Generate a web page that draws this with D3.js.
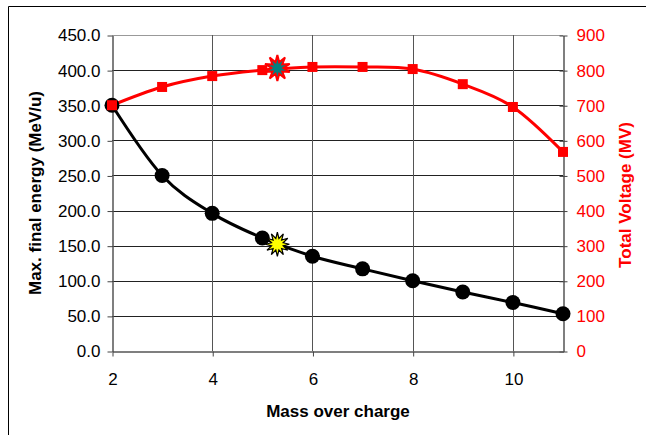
<!DOCTYPE html>
<html>
<head>
<meta charset="utf-8">
<script src="https://cdn.jsdelivr.net/npm/d3@7"></script>
<style>
  body { margin: 0; background: #fff; }
  svg { font-family: Arial, 'Liberation Sans', sans-serif; }
</style>
</head>
<body>
<svg id="chart" width="646" height="435"></svg>
<script>
// mass over charge
var massOverCharge = [2, 3, 4, 5, 6, 7, 8, 9, 10, 11]
// max. final energy (MeV/u), left axis
var finalEnergy = [350, 250, 196, 161, 135, 117, 100, 84, 69, 53]
// total voltage (MV), right axis
var totalVoltage = [700, 752, 783, 800, 809, 809, 803, 760, 695, 567]
// highlighted points
var energyStar = [5.3, 152]
var voltageStar = [5.3, 806]

var leftTicks = [0, 50, 100, 150, 200, 250, 300, 350, 400, 450]
var rightTicks = [0, 100, 200, 300, 400, 500, 600, 700, 800, 900]
var xTicks = [2, 4, 6, 8, 10]

var svg = d3.select('#chart')

var x = d3.scaleLinear().domain([2, 11]).range([112, 563])
var yL = d3.scaleLinear().domain([0, 450]).range([351, 35])
var yR = d3.scaleLinear().domain([0, 900]).range([351, 35])

// outer frame (only top and left edges visible)
svg.append('path')
  .attr('d', 'M8.5,435 L8.5,6.5 L646,6.5')
  .attr('fill', 'none')
  .attr('stroke', '#000')
  .attr('stroke-width', 1)

// grid
svg.append('g').selectAll('line.h')
  .data(leftTicks.slice(1))
  .enter().append('line')
  .attr('x1', x(2)).attr('x2', x(11))
  .attr('y1', function (d) { return Math.round(yL(d)) + 0.5 })
  .attr('y2', function (d) { return Math.round(yL(d)) + 0.5 })
  .attr('stroke', function (d) { return d === 450 ? '#999' : '#222' })
  .attr('stroke-width', 1)

svg.append('g').selectAll('line.v')
  .data(xTicks.slice(1))
  .enter().append('line')
  .attr('x1', function (d) { return Math.round(x(d)) + 0.5 })
  .attr('x2', function (d) { return Math.round(x(d)) + 0.5 })
  .attr('y1', yL(450)).attr('y2', yL(0))
  .attr('stroke', '#555')
  .attr('stroke-width', 1)

// axes
var leftAxis = svg.append('g')
  .attr('transform', 'translate(' + (x(2) + 0.5) + ',0.5)')
  .call(d3.axisLeft(yL).tickValues(leftTicks).tickFormat(d3.format('.1f')).tickSize(5).tickSizeOuter(0).tickPadding(7))
leftAxis.selectAll('text').attr('font-size', 17).attr('fill', '#000')

var rightAxis = svg.append('g')
  .attr('transform', 'translate(' + (x(11) + 0.5) + ',0.5)')
  .call(d3.axisRight(yR).tickValues(rightTicks).tickSize(4).tickSizeOuter(0).tickPadding(9))
rightAxis.selectAll('text').attr('font-size', 17).attr('fill', '#ff0000')
rightAxis.selectAll('.tick line').attr('x1', -4)

var bottomAxis = svg.append('g')
  .attr('transform', 'translate(0.5,' + (yL(0) + 0.5) + ')')
  .call(d3.axisBottom(x).tickValues(xTicks).tickFormat(d3.format('d')).tickSize(5).tickSizeOuter(0).tickPadding(16))
bottomAxis.selectAll('text').attr('font-size', 17).attr('fill', '#000')

svg.selectAll('.domain').attr('stroke', '#555').attr('stroke-width', 1.5)
svg.selectAll('.tick line').attr('stroke', '#444')

// axis titles
svg.append('text')
  .attr('transform', 'translate(41,' + 193 + ') rotate(-90)')
  .attr('text-anchor', 'middle')
  .attr('font-size', 17).attr('font-weight', 'bold')
  .text('Max. final energy (MeV/u)')

svg.append('text')
  .attr('transform', 'translate(631,' + 195 + ') rotate(-90)')
  .attr('text-anchor', 'middle')
  .attr('font-size', 17).attr('font-weight', 'bold')
  .attr('fill', '#ff0000')
  .text('Total Voltage (MV)')

svg.append('text')
  .attr('x', 338).attr('y', 417)
  .attr('text-anchor', 'middle')
  .attr('font-size', 17).attr('font-weight', 'bold')
  .text('Mass over charge')

// lines
var energyData = massOverCharge.map(function (m, i) { return [m, finalEnergy[i]] })
var voltageData = massOverCharge.map(function (m, i) { return [m, totalVoltage[i]] })

var energyLine = d3.line()
  .x(function (d) { return x(d[0]) })
  .y(function (d) { return yL(d[1]) })
  .curve(d3.curveCatmullRom.alpha(0))
var voltageLine = d3.line()
  .x(function (d) { return x(d[0]) })
  .y(function (d) { return yR(d[1]) })
  .curve(d3.curveCatmullRom.alpha(0))

svg.append('path').datum(energyData)
  .attr('d', energyLine)
  .attr('fill', 'none').attr('stroke', '#000').attr('stroke-width', 3)

svg.append('path').datum(voltageData)
  .attr('d', voltageLine)
  .attr('fill', 'none').attr('stroke', '#ff0000').attr('stroke-width', 3)

// markers
svg.append('g').selectAll('circle')
  .data(energyData)
  .enter().append('circle')
  .attr('cx', function (d) { return x(d[0]) })
  .attr('cy', function (d) { return yL(d[1]) })
  .attr('r', 7.5)
  .attr('fill', '#000')

svg.append('g').selectAll('rect')
  .data(voltageData)
  .enter().append('rect')
  .attr('x', function (d) { return x(d[0]) - 5 })
  .attr('y', function (d) { return yR(d[1]) - 5 })
  .attr('width', 10).attr('height', 10)
  .attr('fill', '#ff0000')

// star bursts
function starPath (points, outer, inner) {
  var pts = []
  for (var i = 0; i < points * 2; i++) {
    var r = i % 2 === 0 ? outer : inner
    var a = Math.PI * i / points - Math.PI / 2
    pts.push([r * Math.cos(a), r * Math.sin(a)])
  }
  return 'M' + pts.join('L') + 'Z'
}

svg.append('path')
  .attr('d', starPath(12, 12, 6))
  .attr('transform', 'translate(' + x(energyStar[0]) + ',' + yL(energyStar[1]) + ')')
  .attr('fill', '#ffff00').attr('stroke', '#000').attr('stroke-width', 1.2)

svg.append('path')
  .attr('d', starPath(10, 13, 6))
  .attr('transform', 'translate(' + x(voltageStar[0]) + ',' + yR(voltageStar[1]) + ')')
  .attr('fill', '#008080').attr('stroke', '#ff0000').attr('stroke-width', 2)
</script>
</body>
</html>
